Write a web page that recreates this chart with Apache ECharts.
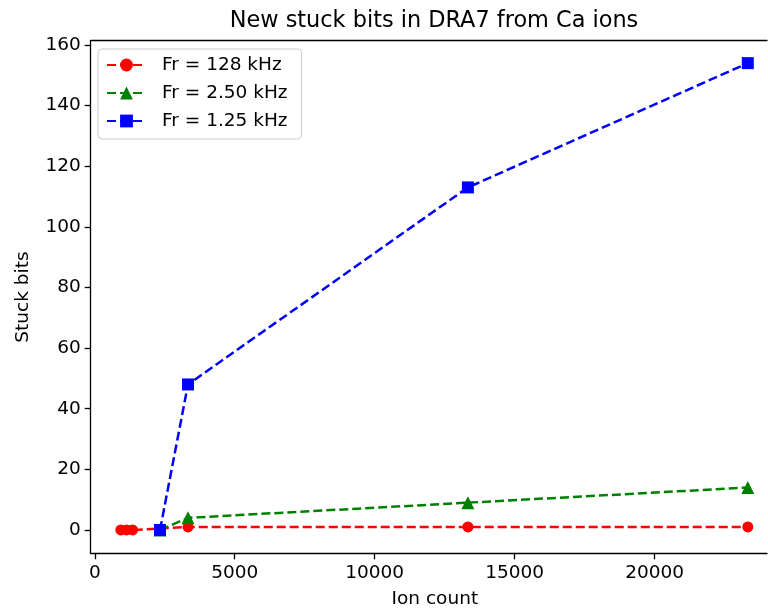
<!DOCTYPE html>
<html>
<head>
<meta charset="utf-8">
<script src="https://cdn.jsdelivr.net/npm/echarts@6/dist/echarts.min.js"></script>
<style>
  html, body { margin: 0; padding: 0; background: #fff; }
  #chart { width: 768px; height: 614px; }
</style>
</head>
<body>
<div id="chart"></div>
<script>
// values
const ionRed = [930, 1140, 1350, 3330, 13330, 23330]
const bitsRed = [0, 0, 0, 1, 1, 1]
const ionGreen = [2330, 3330, 13330, 23330]
const bitsGreen = [0, 4, 9, 14]
const ionBlue = [2330, 3330, 13330, 23330]
const bitsBlue = [0, 48, 113, 154]
const xTicks = [0, 5000, 10000, 15000, 20000]
const yTicks = [0, 20, 40, 60, 80, 100, 120, 140, 160]
const seriesNames = ['Fr = 128 kHz', 'Fr = 2.50 kHz', 'Fr = 1.25 kHz']

const font = 'DejaVu Sans'
const pair = (xs, ys) => xs.map((x, i) => [x, ys[i]])

const chart = echarts.init(document.getElementById('chart'))

function lineSeries (name, data, color, symbol, size) {
  return {
    name: name,
    type: 'line',
    data: data,
    symbol: symbol,
    symbolSize: size,
    showAllSymbol: true,
    animation: false,
    itemStyle: { color: color, borderWidth: 0 },
    lineStyle: { color: color, width: 2.5, type: [9, 4] },
    emphasis: { disabled: true }
  }
}

const axisLine = { show: true, onZero: false, lineStyle: { color: '#000', width: 1.3 } }
const tick = { show: true, inside: false, length: 6, lineStyle: { color: '#000', width: 1.3 } }
const label = { color: '#000', fontFamily: font, fontSize: 18.5, margin: 10, formatter: v => String(v) }
const nameStyle = { color: '#000', fontFamily: font, fontSize: 18.5 }

const option = {
  backgroundColor: '#fff',
  animation: false,
  title: {
    text: 'New stuck bits in DRA7 from Ca ions',
    left: 429,
    top: 5,
    textAlign: 'center',
    textStyle: { color: '#000', fontFamily: font, fontSize: 22.4, fontWeight: 'normal' }
  },
  grid: { left: 90.7, right: 1, top: 40.7, bottom: 60.7, containLabel: false },
  legend: {
    data: seriesNames,
    orient: 'vertical',
    left: 98,
    top: 49,
    padding: [6, 14, 8, 8],
    itemGap: 8,
    itemWidth: 39,
    itemHeight: 16,
    backgroundColor: 'rgba(255,255,255,0.8)',
    borderColor: '#cccccc',
    borderWidth: 1,
    borderRadius: 4,
    textStyle: { color: '#000', fontFamily: font, fontSize: 18.5, lineHeight: 20, padding: [0, 0, 0, 11] }
  },
  xAxis: [{
    type: 'value',
    min: -146,
    max: 24016,
    name: 'Ion count',
    nameLocation: 'middle',
    nameGap: 36,
    nameTextStyle: Object.assign({ padding: [0, 0, 0, 12] }, nameStyle),
    axisLine: axisLine,
    axisTick: Object.assign({ customValues: xTicks }, tick),
    axisLabel: Object.assign({ customValues: xTicks }, label),
    splitLine: { show: false }
  }, {
    type: 'value',
    position: 'top',
    min: -146,
    max: 24016,
    axisLine: axisLine,
    axisTick: { show: false },
    axisLabel: { show: false },
    splitLine: { show: false }
  }],
  yAxis: {
    type: 'value',
    min: -7.7,
    max: 161.4,
    name: 'Stuck bits',
    nameLocation: 'middle',
    nameGap: 58,
    nameTextStyle: nameStyle,
    axisLine: axisLine,
    axisTick: Object.assign({ customValues: yTicks }, tick),
    axisLabel: Object.assign({ customValues: yTicks }, label),
    splitLine: { show: false }
  },
  series: [
    lineSeries(seriesNames[0], pair(ionRed, bitsRed), '#ff0000', 'circle', 11),
    lineSeries(seriesNames[1], pair(ionGreen, bitsGreen), '#008000', 'triangle', 13),
    lineSeries(seriesNames[2], pair(ionBlue, bitsBlue), '#0000ff', 'rect', 12)
  ]
}

chart.setOption(option)
window.addEventListener('resize', () => { chart.resize() })
</script>
</body>
</html>
